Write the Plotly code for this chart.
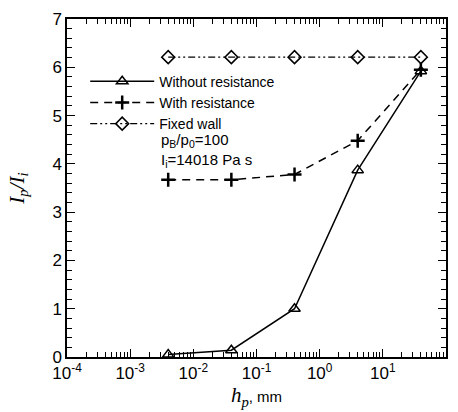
import plotly.graph_objects as go

# Pore height h_p in mm
h_p = [0.004, 0.04, 0.4, 4, 40]
# Impulse ratio I_p / I_i for each configuration
without_resistance = [0.05, 0.14, 1.0, 3.87, 5.92]
with_resistance = [3.67, 3.67, 3.78, 4.48, 5.95]
fixed_wall = [6.21, 6.21, 6.21, 6.21, 6.21]

x_tick_vals = [1e-4, 1e-3, 1e-2, 1e-1, 1e0, 1e1, 1e2]
x_tick_text = ["10<sup>-4</sup>", "10<sup>-3</sup>", "10<sup>-2</sup>", "10<sup>-1</sup>",
               "10<sup>0</sup>", "10<sup>1</sup>", "10<sup>2</sup>"]
y_tick_vals = [0, 1, 2, 3, 4, 5, 6, 7]

minor_x = [m * 10 ** e for e in range(-4, 2) for m in range(2, 10)]
minor_y = [i / 5 for i in range(0, 36) if i % 5 != 0]

SANS = "Arial, Liberation Sans"
SERIF = "Liberation Serif, Times New Roman"

fig = go.Figure()
fig.add_trace(go.Scatter(
    x=h_p, y=without_resistance, mode="lines+markers", name="Without resistance",
    line=dict(color="black", width=1.5),
    marker=dict(symbol="triangle-up-open", size=10, color="black", line=dict(width=1.5)),
))
fig.add_trace(go.Scatter(
    x=h_p, y=with_resistance, mode="lines+markers", name="With resistance",
    line=dict(color="black", width=1.5, dash="8px,6px"),
    marker=dict(symbol="cross-thin-open", size=10, color="black", line=dict(width=2.5)),
))
fig.add_trace(go.Scatter(
    x=h_p, y=fixed_wall, mode="lines+markers", name="Fixed wall",
    line=dict(color="black", width=1.2, dash="7px,3px,2px,3px,2px,3px"),
    marker=dict(symbol="diamond-open", size=10, color="black", line=dict(width=1.5)),
))

axis_common = dict(
    showline=True, linecolor="black", linewidth=1.5, mirror="allticks",
    ticks="inside", ticklen=8, tickwidth=1.2, tickcolor="black",
    showgrid=False, zeroline=False,
    tickfont=dict(family=SANS, size=17, color="black"),
)

fig.update_xaxes(
    type="log", range=[-4, 2], tickvals=x_tick_vals, ticktext=x_tick_text,
    minor=dict(tickvals=minor_x, ticks="inside", ticklen=5, tickcolor="black", tickwidth=1),
    title=dict(text=f"<i>h<sub>p</sub></i><span style='font-family:{SANS};font-size:15px'>, mm</span>",
               standoff=4, font=dict(family=SERIF, size=21, color="black")),
    **axis_common,
)
fig.update_yaxes(
    range=[0, 7], tickvals=y_tick_vals,
    minor=dict(tickvals=minor_y, ticks="inside", ticklen=5, tickcolor="black", tickwidth=1),
    title=dict(text="<i>I<sub>p</sub>/I<sub>i</sub></i>", standoff=22,
               font=dict(family=SERIF, size=21, color="black")),
    **axis_common,
)

fig.add_annotation(
    x=0.243, y=0.674, xref="paper", yref="paper", xanchor="left", yanchor="top",
    showarrow=False, align="left",
    text="p<sub>B</sub>/p<sub>0</sub>=100<br>I<sub>i</sub>=14018 Pa s",
    font=dict(family=SANS, size=15, color="black"),
)

fig.update_layout(
    width=458, height=412,
    margin=dict(l=67, r=10, t=14, b=51),
    paper_bgcolor="white", plot_bgcolor="white",
    showlegend=True,
    legend=dict(
        x=0.048, y=0.862, xanchor="left", yanchor="top",
        bgcolor="rgba(0,0,0,0)", itemwidth=64, tracegroupgap=0,
        font=dict(family=SANS, size=14, color="black"),
    ),
)

fig.write_html("out.html")
